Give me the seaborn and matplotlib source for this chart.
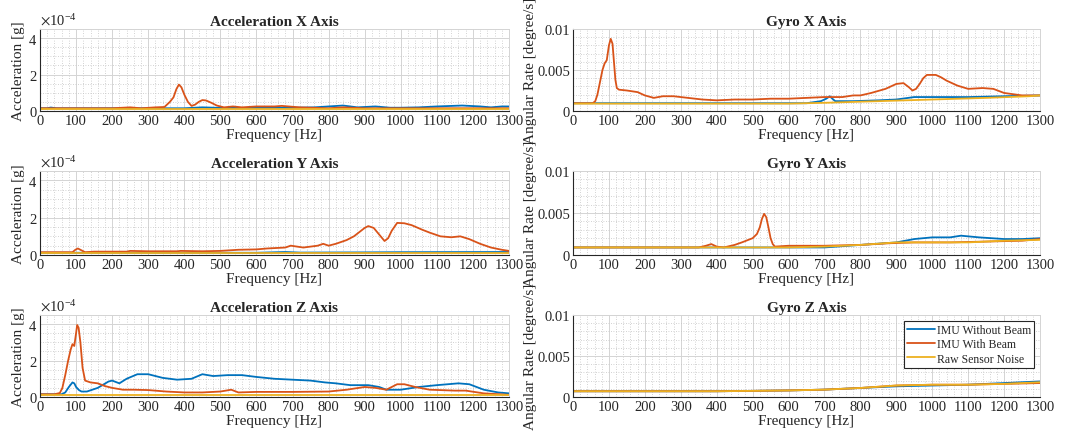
import matplotlib
matplotlib.use('Agg')
import matplotlib.pyplot as plt
from matplotlib.ticker import MultipleLocator, FixedLocator, FixedFormatter, ScalarFormatter
import numpy as np
import pandas as pd
import seaborn as sns

sns.set_style('white')
plt.rcParams['font.family'] = ['Liberation Serif', 'DejaVu Serif']
plt.rcParams['mathtext.fontset'] = 'stix'

SERIES = ['IMU Without Beam', 'IMU With Beam', 'Raw Sensor Noise']
COLORS = ['#0072BD', '#D95319', '#EDB120']

# ---- Acceleration X (units of 1e-4 g)
accx_f_nobeam = [0, 20, 30, 45, 100, 300, 400, 450, 500, 600, 700, 760, 800, 840, 880, 930, 970, 1000, 1050, 1100, 1170, 1220, 1250, 1280, 1300]
accx_nobeam = [0.15, 0.15, 0.19, 0.15, 0.15, 0.15, 0.15, 0.2, 0.17, 0.17, 0.18, 0.2, 0.25, 0.3, 0.2, 0.25, 0.18, 0.18, 0.2, 0.25, 0.3, 0.25, 0.2, 0.25, 0.25]
accx_f_beam = [0, 200, 250, 280, 320, 345, 360, 370, 378, 385, 392, 400, 410, 420, 430, 440, 450, 460, 475, 490, 510, 535, 560, 600, 650, 670, 720, 800, 840, 900, 1000, 1300]
accx_beam = [0.15, 0.15, 0.2, 0.15, 0.2, 0.22, 0.5, 0.75, 1.2, 1.45, 1.3, 0.9, 0.5, 0.28, 0.35, 0.5, 0.6, 0.58, 0.45, 0.3, 0.2, 0.25, 0.2, 0.25, 0.25, 0.28, 0.2, 0.15, 0.2, 0.15, 0.15, 0.15]
accx_f_noise = [0, 400, 800, 1300]
accx_noise = [0.12, 0.12, 0.12, 0.12]

# ---- Acceleration Y (units of 1e-4 g)
accy_f_nobeam = [0, 600, 680, 720, 900, 1000, 1300]
accy_nobeam = [0.12, 0.12, 0.16, 0.13, 0.14, 0.15, 0.16]
accy_f_beam = [0, 90, 98, 105, 112, 125, 150, 240, 250, 300, 380, 390, 450, 500, 550, 600, 630, 680, 695, 730, 770, 785, 800, 820, 850, 870, 890, 900, 910, 925, 940, 955, 965, 975, 990, 1010, 1030, 1060, 1080, 1110, 1140, 1165, 1190, 1220, 1250, 1280, 1300]
accy_beam = [0.15, 0.15, 0.28, 0.35, 0.28, 0.15, 0.18, 0.18, 0.22, 0.2, 0.2, 0.22, 0.2, 0.22, 0.28, 0.3, 0.35, 0.4, 0.5, 0.4, 0.5, 0.6, 0.5, 0.6, 0.8, 1.0, 1.3, 1.45, 1.55, 1.45, 1.1, 0.75, 0.9, 1.3, 1.72, 1.7, 1.6, 1.35, 1.2, 1.0, 0.95, 1.0, 0.85, 0.6, 0.4, 0.28, 0.22]
accy_f_noise = [0, 400, 800, 1300]
accy_noise = [0.1, 0.1, 0.1, 0.1]

# ---- Acceleration Z (units of 1e-4 g)
accz_f_nobeam = [0, 60, 70, 80, 90, 95, 100, 108, 115, 130, 160, 190, 200, 220, 240, 270, 300, 340, 380, 420, 450, 480, 520, 560, 600, 650, 700, 750, 790, 820, 860, 910, 940, 960, 1000, 1050, 1100, 1160, 1190, 1230, 1270, 1300]
accz_nobeam = [0.15, 0.15, 0.25, 0.55, 0.8, 0.75, 0.55, 0.38, 0.3, 0.3, 0.5, 0.85, 0.9, 0.75, 1.0, 1.25, 1.25, 1.05, 0.95, 1.0, 1.25, 1.15, 1.2, 1.2, 1.1, 1.0, 0.95, 0.9, 0.8, 0.75, 0.65, 0.65, 0.55, 0.4, 0.4, 0.55, 0.65, 0.75, 0.7, 0.4, 0.25, 0.2]
accz_f_beam = [0, 40, 55, 62, 70, 78, 85, 90, 95, 100, 103, 107, 112, 118, 125, 140, 160, 180, 200, 230, 260, 300, 350, 400, 450, 500, 530, 550, 600, 700, 800, 850, 900, 930, 960, 990, 1010, 1040, 1080, 1150, 1180, 1230, 1300]
accz_beam = [0.15, 0.15, 0.22, 0.5, 1.2, 2.0, 2.6, 2.9, 2.8, 3.5, 3.95, 3.8, 3.0, 1.6, 0.9, 0.8, 0.75, 0.6, 0.5, 0.4, 0.4, 0.38, 0.3, 0.25, 0.25, 0.3, 0.4, 0.25, 0.28, 0.28, 0.3, 0.4, 0.55, 0.5, 0.4, 0.7, 0.7, 0.55, 0.4, 0.35, 0.35, 0.2, 0.12]
accz_f_noise = [0, 400, 800, 1300]
accz_noise = [0.1, 0.1, 0.1, 0.1]

# ---- Gyro X (degree/s)
gyx_f_nobeam = [0, 650, 690, 705, 715, 722, 730, 780, 850, 900, 950, 1000, 1100, 1200, 1300]
gyx_nobeam = [0.00095, 0.00095, 0.0012, 0.0015, 0.0018, 0.0015, 0.0012, 0.0012, 0.0013, 0.0014, 0.0017, 0.0017, 0.0017, 0.0018, 0.0019]
gyx_f_beam = [0, 55, 62, 68, 75, 82, 88, 94, 100, 105, 110, 114, 118, 122, 128, 150, 180, 200, 225, 250, 280, 320, 360, 400, 450, 500, 550, 600, 650, 700, 750, 780, 800, 830, 870, 900, 920, 935, 945, 955, 965, 975, 985, 1010, 1025, 1040, 1070, 1100, 1140, 1170, 1200, 1250, 1300]
gyx_beam = [0.00095, 0.00095, 0.0012, 0.002, 0.0035, 0.005, 0.0058, 0.0062, 0.008, 0.0088, 0.0082, 0.006, 0.0038, 0.0028, 0.0026, 0.0025, 0.0023, 0.0019, 0.0016, 0.0018, 0.0018, 0.0016, 0.0014, 0.0013, 0.0014, 0.0014, 0.0015, 0.0015, 0.0016, 0.0017, 0.0017, 0.0019, 0.0019, 0.0022, 0.0027, 0.0033, 0.0034, 0.0029, 0.0025, 0.0027, 0.0033, 0.004, 0.0044, 0.0044, 0.0041, 0.0037, 0.0031, 0.0027, 0.0028, 0.0027, 0.0022, 0.0019, 0.0019]
gyx_f_noise = [0, 600, 700, 850, 1000, 1150, 1270, 1300]
gyx_noise = [0.0009, 0.0009, 0.001, 0.0012, 0.0014, 0.0016, 0.0018, 0.0019]

# ---- Gyro Y (degree/s)
gyy_f_nobeam = [0, 700, 800, 900, 950, 1000, 1050, 1080, 1130, 1200, 1250, 1300]
gyy_nobeam = [0.0009, 0.0009, 0.0012, 0.0015, 0.0019, 0.0021, 0.0021, 0.0023, 0.0021, 0.0019, 0.0019, 0.002]
gyy_f_beam = [0, 350, 370, 385, 400, 420, 450, 470, 500, 512, 520, 526, 532, 538, 544, 550, 556, 562, 600, 700, 800, 880, 950, 1050, 1150, 1250, 1300]
gyy_beam = [0.0009, 0.0009, 0.0011, 0.0013, 0.001, 0.0009, 0.0012, 0.0015, 0.002, 0.0025, 0.0033, 0.0043, 0.0049, 0.0045, 0.0033, 0.002, 0.0013, 0.001, 0.0011, 0.0011, 0.0012, 0.0014, 0.0015, 0.0015, 0.0016, 0.0017, 0.0019]
gyy_f_noise = [0, 600, 700, 800, 900, 1000, 1100, 1200, 1300]
gyy_noise = [0.0009, 0.0009, 0.001, 0.0012, 0.0015, 0.0015, 0.0015, 0.0017, 0.0018]

# ---- Gyro Z (degree/s)
gyz_f_nobeam = [0, 400, 500, 600, 700, 800, 900, 1000, 1100, 1200, 1300]
gyz_nobeam = [0.0007, 0.0007, 0.00075, 0.0008, 0.0009, 0.0011, 0.0013, 0.0014, 0.0015, 0.0017, 0.0019]
gyz_f_beam = [0, 400, 500, 600, 700, 800, 900, 1000, 1100, 1200, 1300]
gyz_beam = [0.0007, 0.0007, 0.00075, 0.0008, 0.0009, 0.0011, 0.0014, 0.0015, 0.0015, 0.0016, 0.0017]
gyz_f_noise = [0, 400, 500, 600, 700, 800, 900, 1000, 1100, 1200, 1300]
gyz_noise = [0.0007, 0.0007, 0.00075, 0.0008, 0.0009, 0.0011, 0.0014, 0.0015, 0.0015, 0.0016, 0.0018]

ACC_SCALE = 1e-4

panels = [
    ('Acceleration X Axis', 'acc', (accx_f_nobeam, accx_nobeam), (accx_f_beam, accx_beam), (accx_f_noise, accx_noise)),
    ('Gyro X Axis', 'gyro', (gyx_f_nobeam, gyx_nobeam), (gyx_f_beam, gyx_beam), (gyx_f_noise, gyx_noise)),
    ('Acceleration Y Axis', 'acc', (accy_f_nobeam, accy_nobeam), (accy_f_beam, accy_beam), (accy_f_noise, accy_noise)),
    ('Gyro Y Axis', 'gyro', (gyy_f_nobeam, gyy_nobeam), (gyy_f_beam, gyy_beam), (gyy_f_noise, gyy_noise)),
    ('Acceleration Z Axis', 'acc', (accz_f_nobeam, accz_nobeam), (accz_f_beam, accz_beam), (accz_f_noise, accz_noise)),
    ('Gyro Z Axis', 'gyro', (gyz_f_nobeam, gyz_nobeam), (gyz_f_beam, gyz_beam), (gyz_f_noise, gyz_noise)),
]

W, H = 1067, 439
fig = plt.figure(figsize=(W / 100, H / 100), dpi=100)

# axes boxes in pixels: (left, right) and (top, bottom)
cols = [(40, 509), (573, 1040)]
rows = [(30, 112), (172, 256), (316, 398)]

dark = '#262626'
for k, (title, kind, s0, s1, s2) in enumerate(panels):
    r, c = k // 2, k % 2
    x0, x1 = cols[c]
    y0, y1 = rows[r]
    ax = fig.add_axes([x0 / W, 1 - y1 / H, (x1 - x0) / W, (y1 - y0) / H])

    frames = []
    for name, (f, v) in zip(SERIES, [s0, s1, s2]):
        v = np.array(v, dtype=float)
        if kind == 'acc':
            v = v * ACC_SCALE
        frames.append(pd.DataFrame({'freq': f, 'val': v, 'series': name}))
    df = pd.concat(frames, ignore_index=True)

    sns.lineplot(data=df, x='freq', y='val', hue='series', hue_order=SERIES,
                 palette=COLORS, estimator=None, sort=True, linewidth=1.3,
                 legend=(k == 5), ax=ax)

    ax.set_xlim(0, 1300)
    ax.xaxis.set_major_locator(MultipleLocator(100))
    ax.xaxis.set_minor_locator(MultipleLocator(20))
    if kind == 'acc':
        ax.set_ylim(0, 4.5e-4)
        ax.yaxis.set_major_locator(FixedLocator([0, 2e-4, 4e-4]))
        ax.yaxis.set_minor_locator(MultipleLocator(0.5e-4))
        fmt = ScalarFormatter(useMathText=True)
        fmt.set_powerlimits((0, 0))
        ax.yaxis.set_major_formatter(fmt)
        ax.yaxis.get_offset_text().set_fontsize(10.5)
        ax.yaxis.get_offset_text().set_color(dark)
        ax.set_ylabel('Acceleration [g]', fontsize=11, color=dark, labelpad=2)
    else:
        ax.set_ylim(0, 0.01)
        ax.yaxis.set_major_locator(FixedLocator([0, 0.005, 0.01]))
        ax.yaxis.set_major_formatter(FixedFormatter(['0', '0.005', '0.01']))
        ax.yaxis.set_minor_locator(MultipleLocator(0.001))
        ax.set_ylabel('Angular Rate [degree/s]', fontsize=11, color=dark, labelpad=0)

    ax.set_xlabel('Frequency [Hz]', fontsize=11, color=dark, labelpad=1)
    ax.set_title(title, fontsize=11, fontweight='bold', pad=3)

    ax.grid(which='major', color='#d4d4d4', linewidth=0.7)
    ax.grid(which='minor', color='#c4c4c4', linewidth=0.6, linestyle=(0, (1, 2)))
    ax.set_axisbelow(True)
    ax.tick_params(which='major', direction='in', length=3, width=0.7, color=dark,
                   labelsize=10.5, labelcolor=dark, pad=2)
    ax.tick_params(which='minor', length=0)
    for side in ['left', 'bottom']:
        ax.spines[side].set_color(dark)
        ax.spines[side].set_linewidth(0.8)
    for side in ['top', 'right']:
        ax.spines[side].set_color('#d4d4d4')
        ax.spines[side].set_linewidth(0.7)

    if k == 5:
        leg = ax.legend(loc='upper right', fontsize=8.5, frameon=True, fancybox=False,
                        edgecolor=dark, framealpha=1, borderaxespad=0.5,
                        handlelength=2.3, handletextpad=0.2, borderpad=0.25,
                        labelspacing=0.2)
        leg.get_frame().set_linewidth(0.8)

fig.savefig('out.png', dpi=100)
